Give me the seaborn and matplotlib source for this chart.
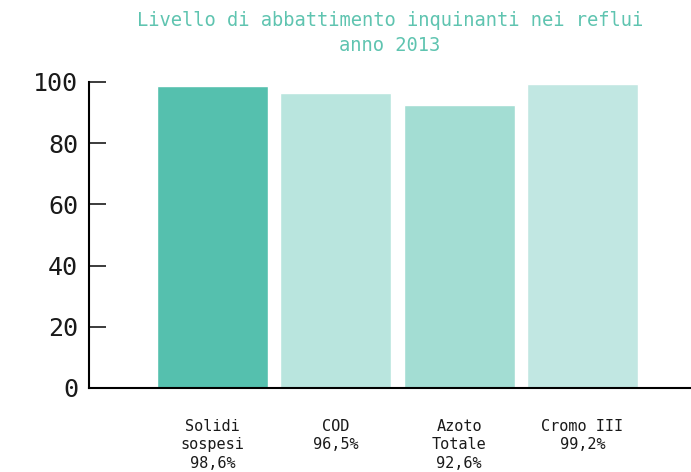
import matplotlib
matplotlib.use("Agg")
import matplotlib.pyplot as plt
import seaborn as sns
import pandas as pd

# dati
categorie = ["Solidi\nsospesi\n98,6%", "COD\n96,5%", "Azoto\nTotale\n92,6%", "Cromo III\n99,2%"]
valori = [98.6, 96.5, 92.6, 99.2]
colori = ["#55c0ae", "#b9e5de", "#a3ddd3", "#c1e7e2"]

df = pd.DataFrame({"categoria": categorie, "valore": valori})

sns.set_style("white")
plt.rcParams["font.family"] = ["DejaVu Sans Mono"]

fig = plt.figure(figsize=(6.91, 4.72), dpi=100)
ax = fig.add_axes([0.1288, 0.178, 0.8712, 0.6483])

sns.barplot(data=df, x="categoria", y="valore", hue="categoria", palette=colori,
            legend=False, width=0.9, saturation=1, ax=ax)

ax.set_xlim(-1.0, 3.88)
ax.set_ylim(0, 100)
ax.set_yticks([0, 20, 40, 60, 80, 100])
ax.set_xlabel("")
ax.set_ylabel("")

for s in ["top", "right"]:
    ax.spines[s].set_visible(False)
for s in ["left", "bottom"]:
    ax.spines[s].set_color("black")
    ax.spines[s].set_linewidth(1.5)

ax.tick_params(axis="y", direction="in", length=12, width=1.2, pad=8,
               labelsize=18, colors="#1a1a1a", left=True)
ax.tick_params(axis="x", length=0, pad=22, labelsize=11, colors="#1a1a1a")
for lab in ax.get_xticklabels():
    lab.set_linespacing(1.3)

ax.set_title("Livello di abbattimento inquinanti nei reflui\nanno 2013",
             color="#5fc4b0", fontsize=13.5, pad=22, linespacing=1.4)

fig.savefig("out.png", dpi=100)
